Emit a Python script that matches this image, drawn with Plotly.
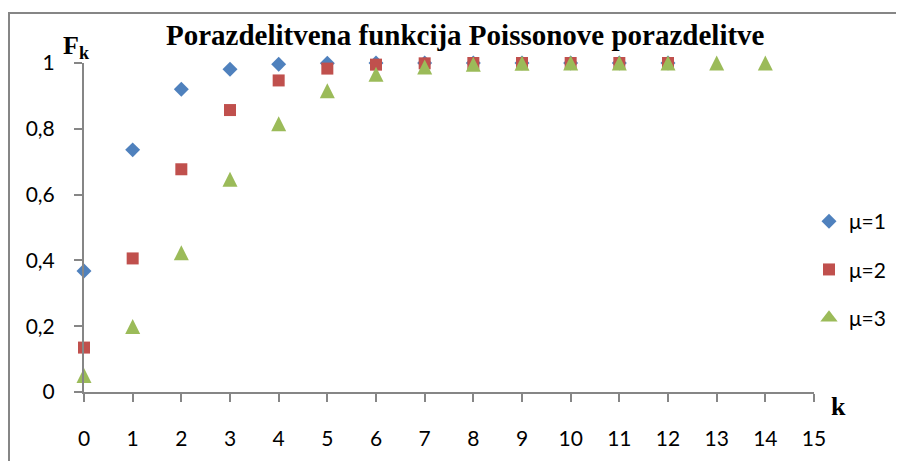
import plotly.graph_objects as go

k_mu1 = list(range(0, 13))
F_mu1 = [0.368, 0.736, 0.920, 0.981, 0.996, 0.999, 1.0, 1.0, 1.0, 1.0, 1.0, 1.0, 1.0]
k_mu2 = list(range(0, 13))
F_mu2 = [0.135, 0.406, 0.677, 0.857, 0.947, 0.983, 0.995, 0.999, 1.0, 1.0, 1.0, 1.0, 1.0]
k_mu3 = list(range(0, 15))
F_mu3 = [0.050, 0.199, 0.423, 0.647, 0.815, 0.916, 0.966, 0.988, 0.996, 0.999, 1.0, 1.0, 1.0, 1.0, 1.0]
series_names = ["μ=1", "μ=2", "μ=3"]
x_ticks = list(range(0, 16))
y_ticks = [0, 0.2, 0.4, 0.6, 0.8, 1]
y_tick_labels = ["0", "0,2", "0,4", "0,6", "0,8", "1"]
title_text = "Porazdelitvena funkcija Poissonove porazdelitve"

# page is offset by the 8px default body margin
OFF = 8
W, H = 904, 461
L, T = 84 - OFF, 63 - OFF
pw, ph = 730, 329
R, B = W - L - pw, H - T - ph

def px(xp):
    return (xp - OFF - L) / pw

def py(yp):
    return (T + ph - (yp - OFF)) / ph

colors = ["#4F81BD", "#C0504D", "#9BBB59"]

fig = go.Figure()
fig.add_trace(go.Scatter(x=k_mu1, y=F_mu1, mode="markers", name=series_names[0],
                         showlegend=False, cliponaxis=False,
                         marker=dict(symbol="diamond", size=11.5, color=colors[0], line=dict(width=0))))
fig.add_trace(go.Scatter(x=k_mu2, y=F_mu2, mode="markers", name=series_names[1],
                         showlegend=False, cliponaxis=False,
                         marker=dict(symbol="square", size=12, color=colors[1], line=dict(width=0))))
fig.add_trace(go.Scatter(x=k_mu3, y=F_mu3, mode="markers", name=series_names[2],
                         showlegend=False, cliponaxis=False,
                         marker=dict(symbol="arrow-down", size=15, angle=180, standoff=7.5,
                                     color=colors[2], line=dict(width=0))))

# legend entries
legend_symbols = [("diamond", 11.5), ("square", 12), ("triangle-up", 15)]
for name, col, (sym, sz), grp in zip(series_names, colors, legend_symbols, ["a", "b", "c"]):
    fig.add_trace(go.Scatter(x=[None], y=[None], mode="markers", name=name, legendgroup=grp,
                             showlegend=True,
                             marker=dict(symbol=sym, size=sz, color=col, line=dict(width=0))))

axis_col = "#868686"
fig.update_layout(
    width=W, height=H,
    margin=dict(l=L, r=R, t=T, b=B, pad=0),
    paper_bgcolor="white", plot_bgcolor="white",
    separators=", ",
    font=dict(family="Lato", size=21, color="black"),
    showlegend=True,
    legend=dict(x=px(809), y=py(201), xanchor="left", yanchor="top",
                traceorder="grouped", tracegroupgap=18,
                font=dict(family="Lato", size=21), bgcolor="rgba(0,0,0,0)",
                itemsizing="trace"),
    xaxis=dict(range=[0, 15], tickvals=x_ticks, showgrid=False, zeroline=False,
               showline=True, linecolor=axis_col, linewidth=2,
               ticks="outside", ticklen=8, tickwidth=2, tickcolor=axis_col,
               ticklabelstandoff=19, tickfont=dict(family="Lato", size=21)),
    yaxis=dict(range=[0, 1], tickvals=y_ticks, ticktext=y_tick_labels, showgrid=False,
               zeroline=False, showline=True, linecolor=axis_col, linewidth=2,
               ticks="outside", ticklen=8, tickwidth=2, tickcolor=axis_col,
               ticklabelstandoff=15, tickfont=dict(family="Lato", size=21)),
)

fig.add_shape(type="rect", xref="paper", yref="paper",
              x0=px(9), x1=px(W + 30), y0=py(H + 30), y1=py(13),
              line=dict(color=axis_col, width=2), fillcolor="rgba(0,0,0,0)", layer="below")

fig.add_annotation(text="<b>" + title_text + "</b>", xref="paper", yref="paper",
                   x=px(466), y=py(35), xanchor="center", yanchor="middle", showarrow=False,
                   font=dict(family="Liberation Serif", size=29, color="black"))
fig.add_annotation(text="<b>F<sub>k</sub></b>", xref="paper", yref="paper",
                   x=px(61), y=py(47), xanchor="left", yanchor="middle", showarrow=False,
                   font=dict(family="Liberation Serif", size=26, color="black"))
fig.add_annotation(text="<b>k</b>", xref="paper", yref="paper",
                   x=px(838), y=py(406), xanchor="center", yanchor="middle", showarrow=False,
                   font=dict(family="Liberation Serif", size=26, color="black"))

fig.write_html("out.html")
